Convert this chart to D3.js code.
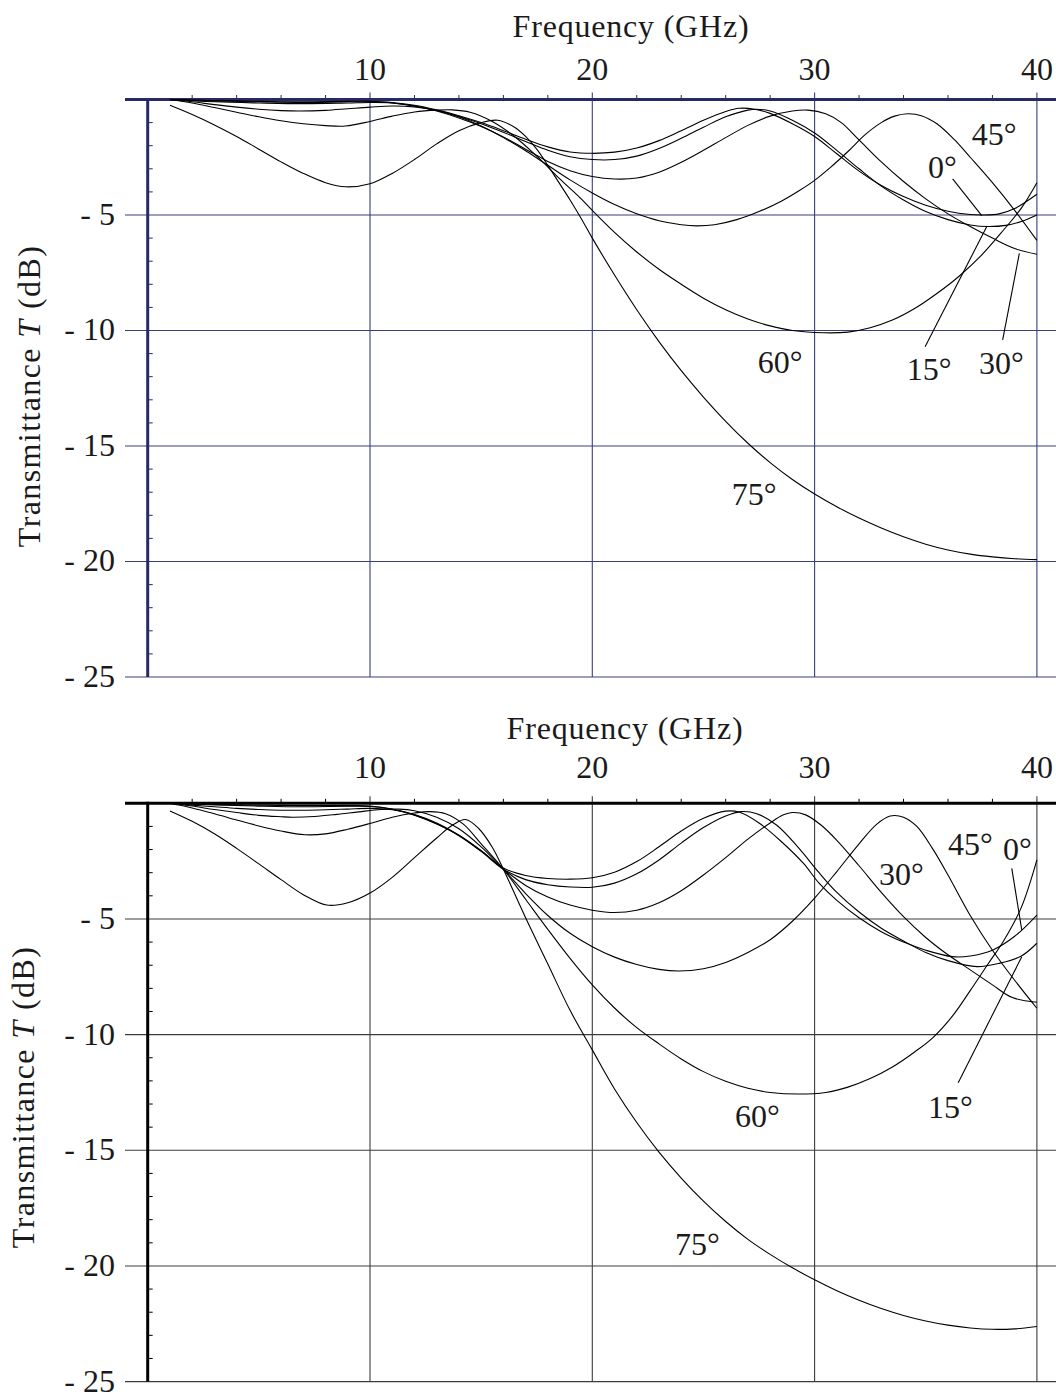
<!DOCTYPE html>
<html><head><meta charset="utf-8">
<script src="https://cdn.jsdelivr.net/npm/d3@7"></script>
<style>
body{margin:0;background:#fff}
svg{display:block}
text{font-family:"Liberation Serif","Times New Roman",serif;fill:#1a1a1a}
</style>
</head><body>
<svg id="chart" width="1056" height="1396"></svg>
<script>
// ---------------- data ----------------
const xTickValues = [10, 20, 30, 40];
const xMinorTicks = [2,4,6,8,12,14,16,18,22,24,26,28,32,34,36,38];
const yTickValues = [-5, -10, -15, -20, -25];
const yMinorTicks = [-1,-2,-3,-4,-6,-7,-8,-9,-11,-12,-13,-14,-16,-17,-18,-19,-21,-22,-23,-24];
const xTitle = "Frequency (GHz)";
const yTitleA = "Transmittance ";
const yTitleB = "T";
const yTitleC = " (dB)";
const angleNames = ["0°","15°","30°","45°","60°","75°"];

// Upper chart: transmittance (dB) vs frequency (GHz)
const top0 = [[1,0],[3,-0.05],[5,-0.08],[7,-0.1],[9,-0.08],[10,-0.08],[11,-0.13],[12,-0.25],[13,-0.45],[14,-0.7],[15,-1.0],[16,-1.35],[17,-1.72],[18,-2.05],[19,-2.27],[20,-2.33],[21,-2.28],[22,-2.1],[23,-1.78],[24,-1.35],[25,-0.9],[26,-0.52],[26.6,-0.38],[27.3,-0.42],[28,-0.6],[29,-1.05],[30,-1.6],[31,-2.35],[32,-3.1],[33,-3.72],[34,-4.2],[35,-4.58],[36,-4.84],[37,-4.98],[37.6,-5.0],[38.3,-4.95],[39,-4.72],[40,-4.1]];
const top15 = [[1,0],[3,-0.06],[5,-0.1],[7,-0.13],[9,-0.1],[10,-0.1],[11,-0.15],[12,-0.28],[13,-0.48],[14,-0.74],[15,-1.05],[16,-1.42],[17,-1.82],[18,-2.2],[19,-2.48],[20,-2.6],[21,-2.6],[22,-2.45],[23,-2.12],[24,-1.68],[25,-1.2],[26,-0.75],[27,-0.46],[27.4,-0.42],[28,-0.5],[29,-0.9],[30,-1.45],[31,-2.2],[32,-3.0],[33,-3.75],[34,-4.35],[35,-4.85],[36,-5.2],[37,-5.43],[37.8,-5.5],[38.6,-5.45],[39.3,-5.28],[40,-5.0]];
const top30 = [[1,0],[3,-0.1],[5,-0.15],[7,-0.18],[9,-0.15],[10,-0.13],[11,-0.15],[12,-0.28],[13,-0.5],[14,-0.8],[15,-1.17],[16,-1.62],[17,-2.15],[18,-2.68],[19,-3.08],[20,-3.33],[21,-3.44],[22,-3.4],[23,-3.15],[24,-2.72],[25,-2.2],[26,-1.65],[27,-1.12],[28,-0.72],[29,-0.5],[29.7,-0.46],[30.5,-0.62],[31.2,-1.0],[32,-1.75],[33,-2.7],[34,-3.55],[35,-4.3],[36,-4.95],[37,-5.5],[38,-6.0],[39,-6.45],[40,-6.7]];
const top45 = [[1,0],[2,-0.1],[3,-0.22],[4,-0.33],[5,-0.42],[6,-0.48],[6.8,-0.5],[8,-0.47],[9,-0.4],[10,-0.33],[11,-0.28],[12,-0.32],[13,-0.47],[14,-0.75],[15,-1.15],[16,-1.65],[17,-2.22],[18,-2.85],[19,-3.48],[20,-4.05],[21,-4.55],[22,-4.95],[23,-5.25],[24,-5.42],[24.7,-5.47],[25.5,-5.42],[26.5,-5.2],[27.5,-4.85],[28.5,-4.4],[29.3,-3.95],[30,-3.5],[30.7,-2.95],[31.5,-2.25],[32.3,-1.5],[33,-1.0],[33.6,-0.72],[34.2,-0.62],[34.8,-0.7],[35.5,-1.05],[36.3,-1.75],[37,-2.5],[38,-3.6],[39,-4.8],[40,-6.1]];
const top60 = [[1,0],[2,-0.15],[3,-0.35],[4,-0.55],[5,-0.75],[6,-0.92],[7,-1.05],[8,-1.13],[8.9,-1.15],[10,-0.95],[11,-0.72],[12,-0.54],[13,-0.46],[13.7,-0.45],[14.5,-0.55],[15.5,-0.95],[16.5,-1.6],[17.5,-2.45],[18.5,-3.4],[19.5,-4.3],[20,-4.8],[21,-5.75],[22,-6.6],[23,-7.35],[24,-8.0],[25,-8.6],[26,-9.1],[27,-9.5],[28,-9.8],[29,-10.0],[30.4,-10.1],[31.5,-10.07],[32.5,-9.88],[33.5,-9.55],[34.5,-9.05],[35.5,-8.4],[36.5,-7.65],[37.5,-6.75],[38.5,-5.65],[39.3,-4.7],[40,-3.6]];
const top75 = [[1,-0.25],[2,-0.65],[3,-1.1],[4,-1.6],[5,-2.15],[6,-2.7],[7,-3.2],[8,-3.6],[8.9,-3.78],[10,-3.65],[11,-3.2],[12,-2.6],[13,-1.92],[14,-1.35],[15,-1.0],[15.75,-0.9],[16.5,-1.2],[17,-1.6],[17.5,-2.15],[18,-2.85],[18.5,-3.6],[19,-4.35],[19.5,-5.15],[20,-6.0],[21,-7.6],[22,-9.1],[23,-10.48],[24,-11.74],[25,-12.88],[26,-13.93],[27,-14.88],[28,-15.72],[29,-16.45],[30,-17.08],[31,-17.63],[32,-18.12],[33,-18.55],[34,-18.93],[35,-19.25],[36,-19.5],[37,-19.68],[38,-19.8],[39,-19.88],[40,-19.92]];

// Lower chart
const bot0 = [[1,0],[3,-0.05],[5,-0.08],[7,-0.1],[9,-0.1],[10,-0.12],[11,-0.25],[12,-0.5],[13,-0.88],[14,-1.38],[15,-2.05],[16,-2.8],[17,-3.12],[18,-3.25],[19,-3.28],[20,-3.22],[21,-2.98],[22,-2.52],[23,-1.88],[24,-1.2],[25,-0.65],[26,-0.34],[26.6,-0.38],[27.5,-0.85],[28.5,-1.65],[29.5,-2.6],[30.2,-3.45],[31,-4.2],[32,-4.95],[33,-5.55],[34,-6.0],[35,-6.35],[36.2,-6.63],[37,-6.6],[38,-6.35],[39,-5.75],[40,-4.83]];
const bot15 = [[1,0],[3,-0.07],[5,-0.12],[7,-0.15],[9,-0.13],[10,-0.14],[11,-0.26],[12,-0.52],[13,-0.9],[14,-1.4],[15,-2.08],[16,-2.85],[17,-3.3],[18,-3.52],[19,-3.62],[20,-3.63],[21,-3.45],[22,-3.05],[23,-2.45],[24,-1.72],[25,-1.05],[26,-0.55],[26.7,-0.36],[27.4,-0.45],[28.3,-0.95],[29.3,-1.95],[30.2,-3.0],[31,-3.85],[32,-4.7],[33,-5.4],[34,-5.95],[35,-6.45],[36,-6.8],[37.3,-7.06],[38.3,-6.92],[39.3,-6.6],[40,-6.05]];
const bot30 = [[1,0],[2,-0.08],[3,-0.15],[4,-0.22],[5,-0.27],[6,-0.3],[7,-0.3],[8,-0.28],[9,-0.25],[10,-0.22],[11,-0.28],[12,-0.48],[13,-0.85],[14,-1.38],[15,-2.05],[16,-2.85],[17,-3.55],[18,-4.05],[19,-4.4],[20,-4.62],[21,-4.72],[22,-4.62],[23,-4.3],[24,-3.78],[25,-3.1],[26,-2.35],[27,-1.55],[28,-0.85],[28.6,-0.5],[29,-0.4],[29.6,-0.5],[30.3,-0.95],[31,-1.6],[32,-2.7],[33,-3.85],[34,-4.9],[35,-5.8],[36,-6.55],[37,-7.2],[38,-7.85],[38.9,-8.4],[40,-8.6]];
const bot45 = [[1,0],[2,-0.12],[3,-0.27],[4,-0.4],[5,-0.52],[6,-0.58],[6.5,-0.6],[7.5,-0.57],[8.5,-0.48],[9.5,-0.37],[10.5,-0.27],[11.3,-0.25],[12,-0.32],[13,-0.6],[14,-1.1],[15,-1.88],[16,-2.85],[17,-3.9],[18,-4.85],[19,-5.62],[20,-6.2],[21,-6.65],[22,-6.97],[23,-7.18],[23.9,-7.25],[25,-7.15],[26,-6.88],[27,-6.45],[28,-5.9],[29,-5.1],[30,-4.1],[31,-2.95],[32,-1.75],[32.8,-0.9],[33.4,-0.55],[34,-0.6],[34.6,-1.0],[35.3,-1.95],[36,-3.1],[37,-4.85],[38,-6.35],[39,-7.65],[40,-8.86]];
const bot60 = [[1,0],[2,-0.2],[3,-0.45],[4,-0.72],[5,-0.98],[6,-1.2],[7.07,-1.36],[8,-1.32],[9,-1.12],[10,-0.87],[11,-0.6],[12,-0.42],[12.7,-0.36],[13.4,-0.45],[14.2,-0.9],[15,-1.75],[16,-2.85],[17,-4.15],[18,-5.45],[19,-6.7],[20,-7.85],[21,-8.85],[22,-9.7],[23,-10.4],[24,-11.05],[25,-11.6],[26,-12.02],[27,-12.32],[28,-12.5],[29.3,-12.57],[30.5,-12.5],[31.5,-12.27],[32.5,-11.9],[33.5,-11.4],[34.5,-10.75],[35.3,-10.15],[36.2,-9.2],[37,-8.1],[37.8,-6.95],[38.5,-5.95],[39.3,-4.5],[40,-2.45]];
const bot75 = [[1,-0.33],[2,-0.78],[3,-1.32],[4,-1.95],[5,-2.62],[6,-3.3],[7,-3.95],[8.05,-4.4],[9,-4.3],[10,-3.88],[11,-3.2],[12,-2.35],[13,-1.5],[13.7,-0.95],[14.3,-0.7],[14.9,-1.1],[15.5,-1.9],[16,-2.85],[17,-4.95],[18,-6.95],[19,-8.95],[20,-10.66],[21,-12.35],[22,-13.8],[23,-15.08],[24,-16.2],[25,-17.2],[26,-18.08],[27,-18.85],[28,-19.5],[29,-20.08],[30,-20.6],[31,-21.07],[32,-21.48],[33,-21.84],[34,-22.14],[35,-22.38],[36,-22.56],[37,-22.68],[38,-22.74],[39,-22.72],[40,-22.62]];

// curve labels (position in data units: frequency, dB) and leader lines
const topLabels = [
  {text:"45°", f:37.07, t:-1.97},
  {text:"0°",  f:35.1,  t:-3.4},
  {text:"15°", f:34.14, t:-12.14},
  {text:"30°", f:37.4,  t:-11.88},
  {text:"60°", f:27.44, t:-11.83},
  {text:"75°", f:26.27, t:-17.55}
];
const topLeaders = [
  {f1:36.21, t1:-3.44, f2:37.52, t2:-5.03},
  {f1:34.97, t1:-10.7, f2:37.74, t2:-5.51},
  {f1:38.46, t1:-10.41, f2:39.21, t2:-6.66}
];
const botLabels = [
  {text:"30°", f:32.9,  t:-3.53},
  {text:"45°", f:36.0,  t:-2.24},
  {text:"0°",  f:38.47, t:-2.45},
  {text:"15°", f:35.1,  t:-13.6},
  {text:"60°", f:26.42, t:-13.98},
  {text:"75°", f:23.72, t:-19.53}
];
const botLeaders = [
  {f1:38.87, t1:-2.81, f2:39.32, t2:-5.48},
  {f1:36.46, t1:-12.08, f2:39.32, t2:-6.63}
];

// ---------------- layout ----------------
const panels = [
  {series:[top0,top15,top30,top45,top60,top75], labels:topLabels, leaders:topLeaders,
   y0:99.5, y1:677, axisColor:"#262a66", gridColor:"#3a3e7a",
   titleY:37, tickLabelY:80, titleX:631, yTitleX:40, yTitleY:396},
  {series:[bot0,bot15,bot30,bot45,bot60,bot75], labels:botLabels, leaders:botLeaders,
   y0:803.3, y1:1381.6, axisColor:"#000", gridColor:"#3c3c3c",
   titleY:739, tickLabelY:778, titleX:625, yTitleX:34, yTitleY:1097}
];
const X0 = 147.7, X1 = 1036.9, GRID_LEFT = 125, GRID_RIGHT = 1056;
const FS = 32;

const svg = d3.select("#chart");

panels.forEach(p => {
  const x = d3.scaleLinear().domain([0, 40]).range([X0, X1]);
  const y = d3.scaleLinear().domain([0, -25]).range([p.y0, p.y1]);
  const g = svg.append("g");

  // horizontal grid
  g.selectAll(".hg").data(yTickValues).join("line")
    .attr("x1", GRID_LEFT).attr("x2", GRID_RIGHT)
    .attr("y1", d => y(d)).attr("y2", d => y(d))
    .attr("stroke", p.gridColor).attr("stroke-width", 1.1);
  // vertical grid
  g.selectAll(".vg").data(xTickValues).join("line")
    .attr("x1", d => x(d)).attr("x2", d => x(d))
    .attr("y1", y(0) - 7).attr("y2", y(-25))
    .attr("stroke", p.gridColor).attr("stroke-width", 1.1);
  // minor x ticks (outward)
  g.selectAll(".mx").data(xMinorTicks).join("line")
    .attr("x1", d => x(d)).attr("x2", d => x(d))
    .attr("y1", y(0) - 4.5).attr("y2", y(0))
    .attr("stroke", p.axisColor).attr("stroke-width", 1);
  // minor y ticks (inward)
  g.selectAll(".my").data(yMinorTicks).join("line")
    .attr("x1", x(0)).attr("x2", x(0) + 5)
    .attr("y1", d => y(d)).attr("y2", d => y(d))
    .attr("stroke", p.axisColor).attr("stroke-width", 1);
  // axes
  g.append("line").attr("x1", GRID_LEFT).attr("x2", GRID_RIGHT)
    .attr("y1", y(0)).attr("y2", y(0))
    .attr("stroke", p.axisColor).attr("stroke-width", 3);
  g.append("line").attr("x1", x(0)).attr("x2", x(0))
    .attr("y1", y(0) - 1.5).attr("y2", y(-25))
    .attr("stroke", p.axisColor).attr("stroke-width", 3);

  // x tick labels
  g.selectAll(".xl").data(xTickValues).join("text")
    .attr("x", d => x(d)).attr("y", p.tickLabelY)
    .attr("text-anchor", "middle").attr("font-size", FS)
    .text(d => d);
  // y tick labels
  g.selectAll(".yl").data(yTickValues).join("text")
    .attr("x", 115).attr("y", d => y(d))
    .attr("dy", "0.31em")
    .attr("text-anchor", "end").attr("font-size", FS)
    .text(d => "- " + Math.abs(d));
  // titles
  g.append("text").attr("x", p.titleX).attr("y", p.titleY)
    .attr("text-anchor", "middle").attr("font-size", FS)
    .attr("letter-spacing", 0.8).text(xTitle);
  const yt = g.append("text")
    .attr("transform", `translate(${p.yTitleX},${p.yTitleY}) rotate(-90)`)
    .attr("text-anchor", "middle").attr("font-size", FS)
    .attr("letter-spacing", 1.4);
  yt.append("tspan").text(yTitleA);
  yt.append("tspan").attr("font-style", "italic").text(yTitleB);
  yt.append("tspan").text(yTitleC);

  // curves
  const line = d3.line().x(d => x(d[0])).y(d => y(d[1])).curve(d3.curveCatmullRom.alpha(0.5));
  g.selectAll(".curve").data(p.series).join("path")
    .attr("d", line).attr("fill", "none")
    .attr("stroke", "#000").attr("stroke-width", 1.1);

  // leader lines
  g.selectAll(".leader").data(p.leaders).join("line")
    .attr("x1", d => x(d.f1)).attr("y1", d => y(d.t1))
    .attr("x2", d => x(d.f2)).attr("y2", d => y(d.t2))
    .attr("stroke", "#000").attr("stroke-width", 1.1);
  // labels
  g.selectAll(".lab").data(p.labels).join("text")
    .attr("x", d => x(d.f)).attr("y", d => y(d.t))
    .attr("font-size", FS).text(d => d.text);
});
</script>
</body></html>
